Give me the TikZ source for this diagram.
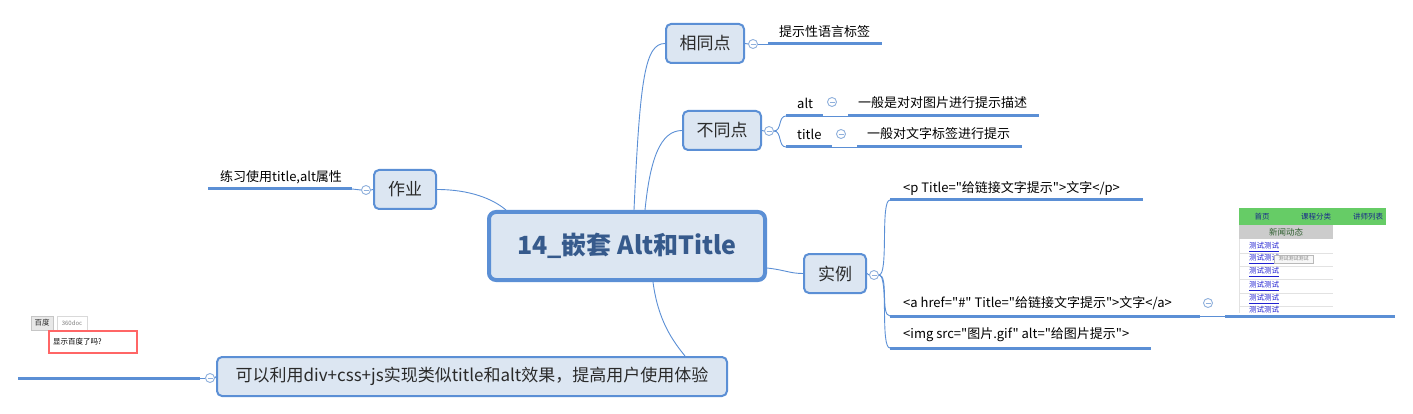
\documentclass[tikz,border=0pt]{standalone}
\usepackage{fontspec}
\setmainfont{Noto Sans CJK SC}[Ligatures=TeXOff]
\usepackage{xcolor}
\usetikzlibrary{arrows.meta,calc}
\usetikzlibrary{positioning,shapes}

\definecolor{lineblue}{HTML}{5B8FD5}
\definecolor{boxfill}{HTML}{DCE6F2}
\definecolor{titleblue}{HTML}{365A8C}
\definecolor{circblue}{HTML}{8FB0DC}
\definecolor{topictext}{HTML}{2A2A2A}
\definecolor{navgreen}{HTML}{66CC66}
\definecolor{navblue}{HTML}{1A2A8A}
\definecolor{newsgray}{HTML}{CCCCCC}
\definecolor{newsgreen}{HTML}{2F5F2F}
\definecolor{linkblue}{HTML}{2020D0}
\definecolor{sepgray}{HTML}{E2E2E2}
\definecolor{alertred}{rgb}{1,0.4,0.4}

\begin{document}
\begin{tikzpicture}[
    x=1pt, y=-1pt, >=Latex,
    hub/.style={draw=lineblue, line width=4pt, fill=boxfill, rounded corners=7pt,
        minimum width=276pt, minimum height=68pt, text=titleblue,
        font=\fontsize{25}{30}\selectfont\bfseries},
    topic/.style={draw=lineblue, line width=2pt, fill=boxfill, rounded corners=5pt,
        minimum width=62pt, minimum height=39pt, text=topictext,
        font=\fontsize{17}{20}\selectfont},
    leaf/.style={anchor=west, inner sep=0pt, font=\fontsize{13}{15}\selectfont},
    uline/.style={lineblue, line width=3pt},
    link/.style={lineblue, line width=0.9pt},
    fold/.style={circle, draw=circblue, fill=white, line width=0.9pt,
        minimum size=9pt, inner sep=0pt,
        path picture={\draw[circblue, line width=0.9pt]
            ([xshift=-2.5pt]path picture bounding box.center) --
            ([xshift=2.5pt]path picture bounding box.center);}},
    shot/.style={inner sep=0pt, font=\fontsize{7.5}{8}\selectfont}
]

% 그림 크기 고정
\path[use as bounding box] (0,0) rectangle (1413,414);

% 중심 주제
\node[hub] (main) at (627,246) {14\_嵌套 Alt和Title};

% 가지 주제
\node[topic, minimum width=78pt] (same) at (705,43.5) {相同点};
\node[topic, minimum width=78pt] (diff) at (722,130.5) {不同点};
\node[topic] (hw) at (405,189.5) {作业};
\node[topic] (ex) at (835,273.5) {实例};
\node[topic, minimum width=510pt] (tip) at (472,376.5) {可以利用div+css+js实现类似title和alt效果，提高用户使用体验};

% 중심에서 가지로
\draw[link] ([xshift=7pt]main.north) .. controls +(6,-132) and +(-20,0) .. (same.west);
\draw[link] ([xshift=18pt]main.north) .. controls +(5,-50) and +(-22,0) .. (diff.west);
\draw[link] (hw.east) .. controls +(33,0) and +(-13,-11) .. ([xshift=19pt]main.north west);
\draw[link] ([yshift=-22pt]main.east) .. controls +(18,2) and +(-13,0) .. (ex.west);
\draw[link] ([xshift=26pt]main.south) .. controls +(5,38) and +(-13,-16) .. ([xshift=213pt]tip.north);

% 相同点
\node[fold] (fsame) at (753,44) {};
\coordinate (sameA) at (768,44);
\draw[link] (same.east) -- (fsame.west);
\draw[link] (fsame.east) -- (sameA);
\draw[uline] (sameA) -- (882,44);
\node[leaf] (sameT) at (779,32) {提示性语言标签};

% 不同点
\node[fold] (fdiff) at (769,131) {};
\draw[link] (diff.east) -- (fdiff.west);
\coordinate (altA) at (786,116);
\coordinate (altB) at (823,116);
\coordinate (altC) at (848,116);
\draw[link] (fdiff.east) .. controls +(8,0) and +(-8,0) .. (altA);
\draw[uline] (altA) -- (altB);
\draw[link] (altB) -- (altC);
\draw[uline] (altC) -- (1039,116);
\node[leaf] (altT) at (797,103) {alt};
\node[fold] (falt) at (832,102) {};
\node[leaf] (altD) at (858,103) {一般是对对图片进行提示描述};

\coordinate (ttlA) at (786,147);
\coordinate (ttlB) at (832,147);
\coordinate (ttlC) at (857,147);
\draw[link] (fdiff.east) .. controls +(8,0) and +(-8,0) .. (ttlA);
\draw[uline] (ttlA) -- (ttlB);
\draw[link] (ttlB) -- (ttlC);
\draw[uline] (ttlC) -- (1022,147);
\node[leaf] (ttlT) at (797,134) {title};
\node[fold] (fttl) at (841,134) {};
\node[leaf] (ttlD) at (867,134) {一般对文字标签进行提示};

% 作业
\node[fold] (fhw) at (366,190) {};
\coordinate (hwA) at (352,189);
\draw[link] (hw.west) -- (fhw.east);
\draw[link] (fhw.west) -- (hwA);
\draw[uline] (hwA) -- (208,189);
\node[leaf] (hwT) at (220,177) {练习使用title,alt属性};

% 实例
\node[fold] (fex) at (874,275) {};
\draw[link] (ex.east) -- (fex.west);
\coordinate (pA) at (890,200);
\coordinate (aA) at (890,316);
\coordinate (imgA) at (890,348);
\foreach \c in {pA,aA,imgA}
    \draw[link] (fex.east) .. controls +(10,0) and +(-10,0) .. (\c);
\draw[uline] (pA) -- (1143,200);
\node[leaf] (pT) at (903,188) {<p Title="给链接文字提示">文字</p>};
\coordinate (aB) at (1200,316);
\coordinate (aC) at (1225,316);
\draw[uline] (aA) -- (aB);
\draw[link] (aB) -- (aC);
\draw[uline] (aC) -- (1395,316);
\node[leaf] (aT) at (903,303) {<a href="\#" Title="给链接文字提示">文字</a>};
\node[fold] (fa) at (1208,303) {};
\draw[uline] (imgA) -- (1151,348);
\node[leaf] (imgT) at (903,335) {<img src="图片.gif" alt="给图片提示">};

% 하단 주제
\node[fold] (ftip) at (210,378) {};
\coordinate (tipA) at (200,378);
\draw[link] (tip.west) -- (ftip.east);
\draw[link] (ftip.west) -- (tipA);
\draw[uline] (tipA) -- (18,378);

% 캡처: 툴팁 예시 (오른쪽)
\begin{scope}
\clip (1239,208) rectangle (1386,313);
\fill[navgreen] (1239,208) rectangle (1386,225);
\node[shot, text=navblue] (nav1) at (1262,216.5) {首页};
\node[shot, text=navblue] (nav2) at (1316,216.5) {课程分类};
\node[shot, text=navblue] (nav3) at (1368,216.5) {讲师列表};
\fill[newsgray] (1239,225) rectangle (1333,239);
\node[shot, text=newsgreen, font=\fontsize{8.5}{9}\selectfont] (news) at (1286,232) {新闻动态};
\draw[sepgray] (1239.5,239) -- (1239.5,313);
\foreach \y in {253,266,279,293,306}
    \draw[sepgray] (1239,\y) -- (1333,\y);
\foreach \y in {247,259,272,286,299,311}
    \node[shot, anchor=west, text=linkblue] (row\y) at (1249,\y) {\underline{测试测试}};
\draw[gray!55, fill=gray!6] (1274,255) rectangle (1313,263);
\node[shot, text=gray, font=\fontsize{5}{5}\selectfont] (tipbox) at (1293.5,259) {测试测试测试};
\end{scope}

% 캡처: 툴팁 예시 (왼쪽)
\draw[fill=gray!18, draw=gray!45] (31,316) rectangle (53,330);
\node[shot, text=topictext] (btn1) at (42,323) {百度};
\draw[fill=white, draw=gray!30] (57,316) rectangle (87,330);
\node[shot, text=gray, font=\fontsize{6}{6}\selectfont] (btn2) at (72,323) {360doc};
\draw[draw=alertred, line width=1.3pt] (49,331) rectangle (137,353);
\node[shot, anchor=west] (alert) at (53,342) {显示百度了吗?};

\end{tikzpicture}
\end{document}
